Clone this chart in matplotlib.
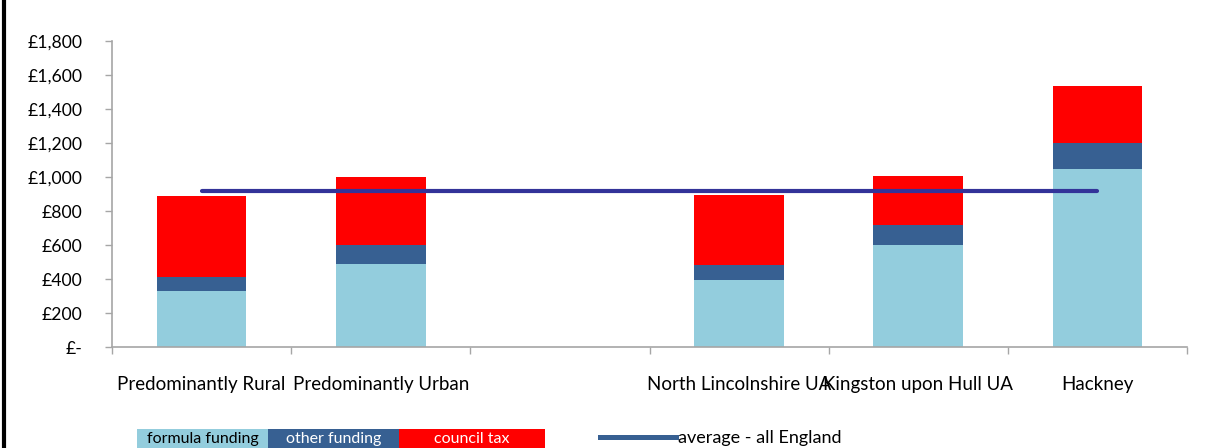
import matplotlib
matplotlib.use("Agg")
import matplotlib.pyplot as plt
from matplotlib.patches import Rectangle
from matplotlib.lines import Line2D

categories = ["Predominantly Rural", "Predominantly Urban", "",
              "North Lincolnshire UA", "Kingston upon Hull UA", "Hackney"]
formula_funding = [329, 486, 0, 394, 598, 1045]
other_funding = [83, 114, 0, 88, 118, 153]
council_tax = [476, 400, 0, 412, 288, 337]
average_all_england = 917
yticks = [0, 200, 400, 600, 800, 1000, 1200, 1400, 1600, 1800]
ytick_labels = ["£-", "£200", "£400", "£600", "£800", "£1,000", "£1,200",
                "£1,400", "£1,600", "£1,800"]

C_FORM = "#93CDDD"
C_OTHER = "#376092"
C_TAX = "#FF0000"
C_AVG = "#333399"
C_AXIS = "#A6A6A6"

plt.rcParams['font.family'] = ['Lato', 'DejaVu Sans']

fig = plt.figure(figsize=(12.23, 4.48), dpi=100)
ax = fig.add_axes([112/1223, 1-347/448, (1187-112)/1223, (347-41)/448])

x = list(range(len(categories)))
b1 = [f for f in formula_funding]
b2 = [f + o for f, o in zip(formula_funding, other_funding)]
ax.bar(x, formula_funding, width=0.5, color=C_FORM, zorder=2)
ax.bar(x, other_funding, width=0.5, bottom=b1, color=C_OTHER, zorder=2)
ax.bar(x, council_tax, width=0.5, bottom=b2, color=C_TAX, zorder=2)

idx = [i for i, c in enumerate(categories) if c]
ax.plot([idx[0], idx[-1]], [average_all_england]*2, color=C_AVG, lw=3.0,
        solid_capstyle='round', zorder=3)

ax.set_xlim(-0.5, len(categories) - 0.5)
ax.set_ylim(0, 1800)
ax.set_yticks(yticks)
ax.set_yticklabels(ytick_labels, fontsize=12.7)
ax.set_xticks(x)
ax.set_xticklabels(categories, fontsize=13.5)
ax.set_xticks([i - 0.5 for i in range(len(categories) + 1)], minor=True)
ax.tick_params(axis='x', which='major', length=0, pad=21)
ax.tick_params(axis='x', which='minor', length=5, color=C_AXIS, width=1)
ax.tick_params(axis='y', length=5, color=C_AXIS, width=1, pad=16)
for s in ['top', 'right']:
    ax.spines[s].set_visible(False)
for s in ['left', 'bottom']:
    ax.spines[s].set_color(C_AXIS)
    ax.spines[s].set_linewidth(1.2)

# left black border
fig.add_artist(Line2D([4/1223, 4/1223], [0, 1], transform=fig.transFigure,
                      color='black', lw=3))

# legend: coloured boxes
W, H = 1223, 448
boxes = [("formula funding", C_FORM, "black", 137, 268),
         ("other funding", C_OTHER, "white", 268, 399),
         ("council tax", C_TAX, "white", 399, 545)]
for lab, col, tc, x0, x1 in boxes:
    fig.add_artist(Rectangle((x0/W, 0), (x1-x0)/W, (448-429)/H,
                             transform=fig.transFigure, color=col, lw=0))
    fig.text((x0+x1)/2/W, 1-439/H, lab, color=tc, ha='center', va='center',
             fontsize=11.5, family=['Lato', 'DejaVu Sans'])
fig.add_artist(Line2D([600/W, 676/W], [1-437/H]*2, transform=fig.transFigure,
                      color=C_OTHER, lw=3.6))
fig.text(678/W, 1-438/H, "average - all England", ha='left', va='center',
         fontsize=13)

fig.savefig("out.png", dpi=100)
